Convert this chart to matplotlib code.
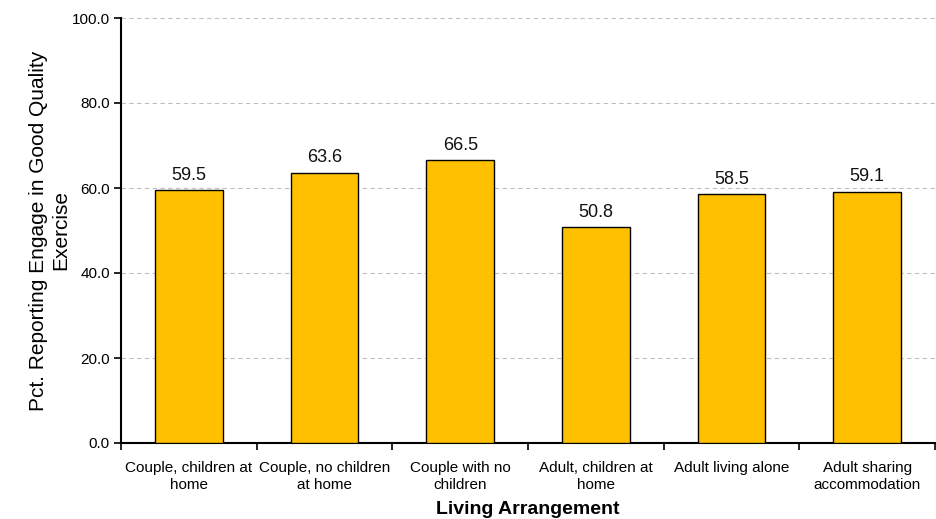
import matplotlib
matplotlib.use("Agg")
import matplotlib.pyplot as plt
import numpy as np

categories = ["Couple, children at\nhome", "Couple, no children\nat home", "Couple with no\nchildren",
              "Adult, children at\nhome", "Adult living alone", "Adult sharing\naccommodation"]
values = [59.5, 63.6, 66.5, 50.8, 58.5, 59.1]
yticks = [0, 20, 40, 60, 80, 100]

plt.rcParams['font.family'] = ['Liberation Sans', 'DejaVu Sans']

fig = plt.figure(figsize=(9.36, 5.19), dpi=100)
ax = fig.add_axes([121/936, 1-443/519, 1-121/936-0.001, (443-18)/519])

x = np.arange(len(categories))
bars = ax.bar(x, values, width=0.5, color="#FFC000", edgecolor="black", linewidth=1, zorder=3)
for xi, v in zip(x, values):
    ax.text(xi, v + 1.5, f"{v:.1f}", ha="center", va="bottom", fontsize=13, color="#111111")

ax.set_xlim(-0.5, len(categories) - 0.5)
ax.set_ylim(0, 100)
ax.set_yticks(yticks)
ax.set_yticklabels([f"{t:.1f}" for t in yticks], fontsize=11)
ax.yaxis.grid(True, linestyle=(0, (4, 3)), color="#bfbfbf", linewidth=0.8, zorder=0)
ax.set_axisbelow(True)

ax.set_xticks(x)
ax.set_xticklabels(categories, fontsize=11, linespacing=1.3)
ax.tick_params(axis="x", length=0, pad=13)
ax.set_xticks(np.arange(len(categories) + 1) - 0.5, minor=True)
ax.tick_params(axis="x", which="minor", length=5, width=1.2, direction="out")
ax.tick_params(axis="y", length=5, width=1.2, direction="out", pad=3)

for s in ["top", "right"]:
    ax.spines[s].set_visible(False)
ax.spines["left"].set_linewidth(1.5)
ax.spines["bottom"].set_linewidth(1.5)

ax.set_ylabel("Pct. Reporting Engage in Good Quality\nExercise", fontsize=15, linespacing=1.25, labelpad=1)
ax.set_xlabel("Living Arrangement", fontsize=14, fontweight="bold", labelpad=6)

fig.savefig("out.png", dpi=100)
